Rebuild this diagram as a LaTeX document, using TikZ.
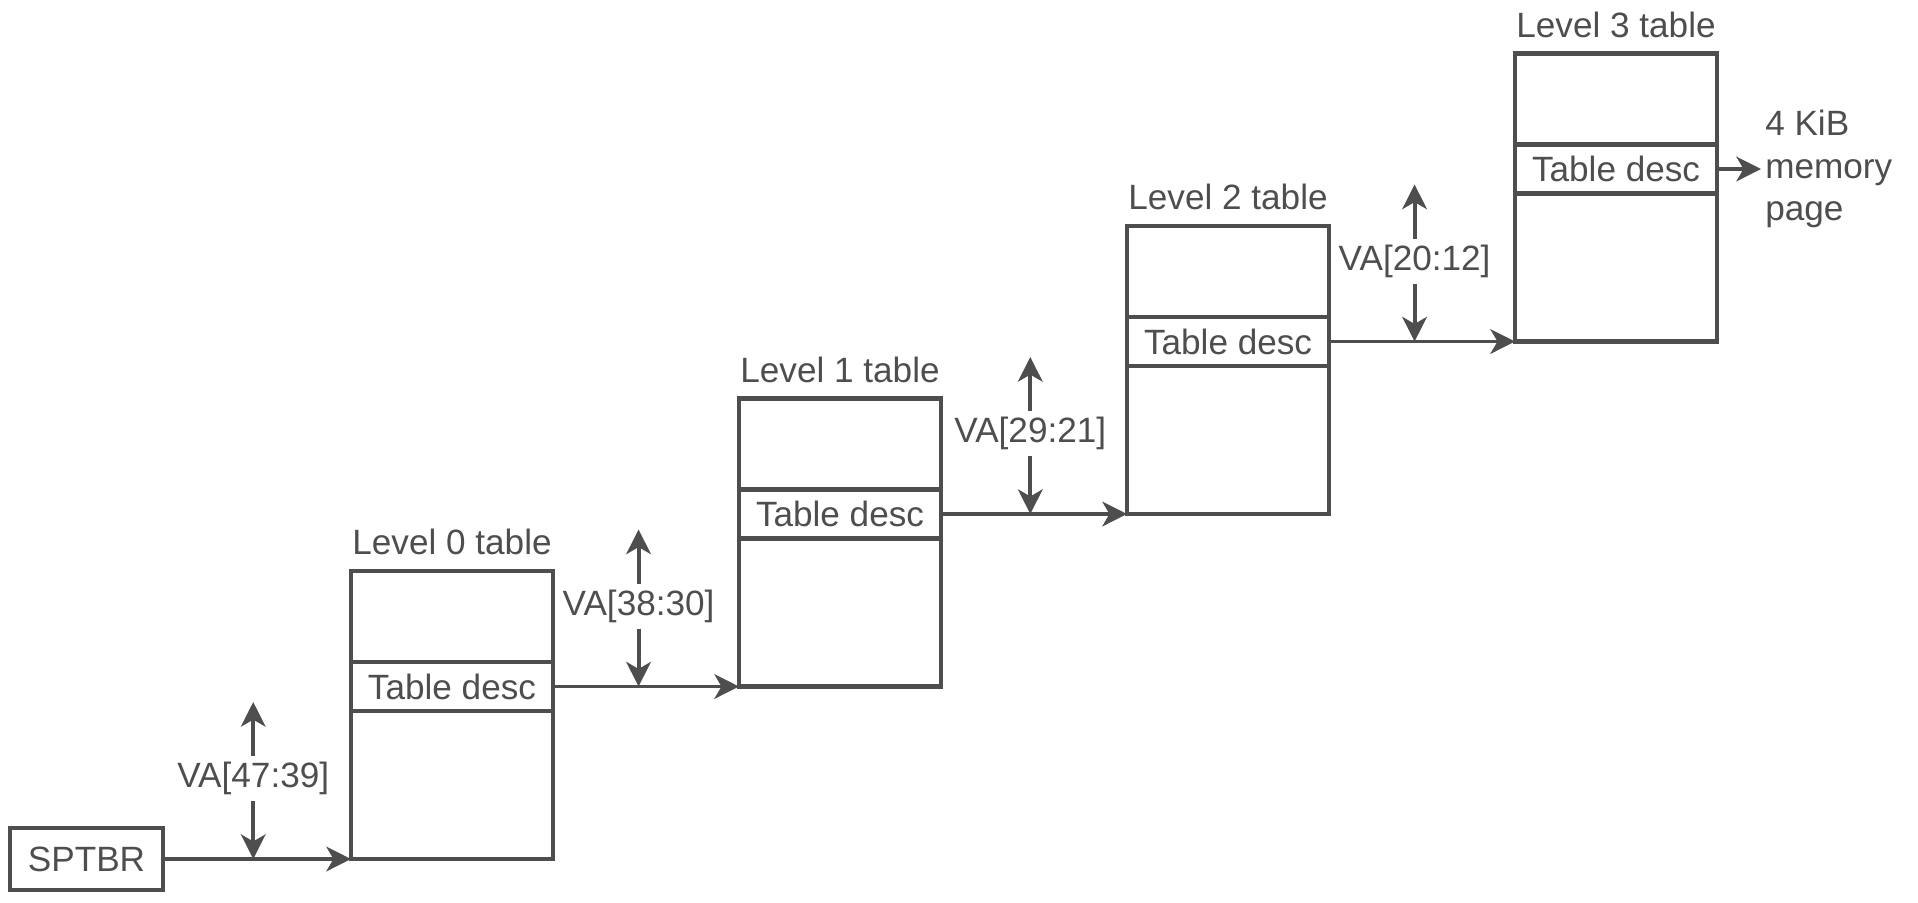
\documentclass[tikz,border=0pt]{standalone}
\usepackage{fontspec}
\setmainfont{Liberation Sans}
\usetikzlibrary{positioning, arrows.meta, calc}

\definecolor{inkgray}{RGB}{78,78,78}

\begin{document}
\begin{tikzpicture}[
  font=\fontsize{10}{12.2}\selectfont,
  text=inkgray,
  tbox/.style={draw=inkgray, line width=1.2pt, minimum width=2.02cm,
               inner sep=0pt, outer sep=0pt},
  ttop/.style={tbox, minimum height=0.91cm},
  tdesc/.style={tbox, minimum height=0.49cm},
  tbot/.style={tbox, minimum height=1.48cm},
  regbox/.style={draw=inkgray, line width=1.2pt, minimum width=1.53cm,
                 minimum height=0.62cm, inner sep=0pt, outer sep=0pt},
  lvl/.style={inner sep=0pt},
  valbl/.style={inner sep=1.5pt},
  pagelbl/.style={align=left, inner sep=1pt},
  arr/.style={-{Stealth[length=7pt, width=7pt, inset=2pt]}, line width=1.1pt, draw=inkgray},
]
\useasboundingbox (0,0) rectangle (19.18,9.02);

% Root register
\node[regbox] (sptbr) at (0.865,0.43) {SPTBR};

% Level 0 table
\node[tbot, above right=0cm and 1.88cm of sptbr.east] (b0) {};
\node[tdesc, above=0pt of b0] (d0) {Table desc};
\node[ttop, above=0pt of d0] (u0) {};
\node[lvl, above=0.15cm of u0] (l0) {Level 0 table};

% Level 1 table
\node[tbot, above right=0cm and 1.86cm of d0.east] (b1) {};
\node[tdesc, above=0pt of b1] (d1) {Table desc};
\node[ttop, above=0pt of d1] (u1) {};
\node[lvl, above=0.15cm of u1] (l1) {Level 1 table};

% Level 2 table
\node[tbot, above right=0cm and 1.86cm of d1.east] (b2) {};
\node[tdesc, above=0pt of b2] (d2) {Table desc};
\node[ttop, above=0pt of d2] (u2) {};
\node[lvl, above=0.15cm of u2] (l2) {Level 2 table};

% Level 3 table
\node[tbot, above right=0cm and 1.86cm of d2.east] (b3) {};
\node[tdesc, above=0pt of b3] (d3) {Table desc};
\node[ttop, above=0pt of d3] (u3) {};
\node[lvl, above=0.15cm of u3] (l3) {Level 3 table};

% Final page
\node[pagelbl, right=0.44cm of d3] (page) {4 KiB\\memory\\page};

% === Walk arrows ===
\draw[arr] (sptbr) -- coordinate[pos=0.48] (j0) (b0.south west);
\draw[arr] (d0) -- coordinate[pos=0.46] (j1) (b1.south west);
\draw[arr] (d1) -- coordinate[pos=0.48] (j2) (b2.south west);
\draw[arr] (d2) -- coordinate[pos=0.46] (j3) (b3.south west);
\draw[arr] (d3) -- (page);

% === Index fields ===
\node[valbl, above=0.58cm of j0] (va0) {VA[47:39]};
\coordinate[above=1.57cm of j0] (t0);
\draw[arr] (va0) -- (t0);
\draw[arr] (va0) -- (j0);

\node[valbl, above=0.58cm of j1] (va1) {VA[38:30]};
\coordinate[above=1.57cm of j1] (t1);
\draw[arr] (va1) -- (t1);
\draw[arr] (va1) -- (j1);

\node[valbl, above=0.58cm of j2] (va2) {VA[29:21]};
\coordinate[above=1.57cm of j2] (t2);
\draw[arr] (va2) -- (t2);
\draw[arr] (va2) -- (j2);

\node[valbl, above=0.58cm of j3] (va3) {VA[20:12]};
\coordinate[above=1.57cm of j3] (t3);
\draw[arr] (va3) -- (t3);
\draw[arr] (va3) -- (j3);

\end{tikzpicture}
\end{document}
